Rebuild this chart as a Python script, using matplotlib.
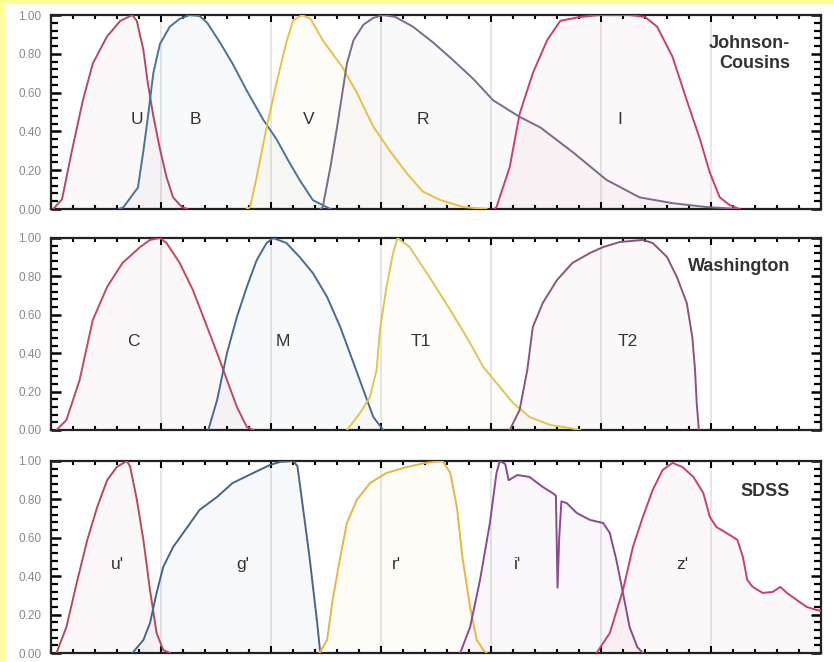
import numpy as np
import matplotlib
matplotlib.use("Agg")
import matplotlib.pyplot as plt
from matplotlib.ticker import MultipleLocator, FixedLocator
from matplotlib.patches import Rectangle

plt.rcParams["font.family"] = ["Liberation Sans", "DejaVu Sans"]

# ---- Johnson-Cousins (wavelength in nm, normalized response) ----
U_wl = [302, 310, 319, 329, 338, 351, 363, 374, 378, 384, 388, 393, 399, 405, 411, 419, 424]
U_rs = [0.0, 0.05, 0.30, 0.56, 0.75, 0.89, 0.97, 1.0, 0.97, 0.82, 0.65, 0.48, 0.31, 0.165, 0.06, 0.01, 0.0]

B_wl = [362, 366, 375, 379, 384, 388, 393, 399, 408, 417, 426, 435, 442, 454, 465, 478, 493, 505, 517, 526, 538, 547, 554]
B_rs = [0.0, 0.01, 0.08, 0.11, 0.30, 0.47, 0.70, 0.85, 0.94, 0.98, 1.0, 0.995, 0.96, 0.855, 0.75, 0.61, 0.46, 0.36, 0.237, 0.15, 0.046, 0.02, 0.0]

V_wl = [478, 481, 487, 496, 505, 514, 520, 528, 536, 547, 565, 578, 593, 608, 624, 638, 654, 675, 696]
V_rs = [0.0, 0.01, 0.165, 0.42, 0.65, 0.86, 0.97, 1.0, 0.98, 0.87, 0.73, 0.60, 0.425, 0.30, 0.18, 0.09, 0.046, 0.01, 0.0]

R_wl = [545, 547, 554, 560, 566, 569, 575, 584, 593, 602, 613, 629, 647, 665, 684, 702, 726, 745, 775, 805, 835, 865, 896, 926]
R_rs = [0.0, 0.01, 0.216, 0.42, 0.64, 0.75, 0.87, 0.95, 0.985, 1.0, 0.99, 0.94, 0.86, 0.77, 0.67, 0.56, 0.475, 0.42, 0.29, 0.15, 0.06, 0.03, 0.01, 0.0]

I_wl = [703, 705, 717, 726, 738, 751, 763, 781, 799, 826, 840, 851, 865, 878, 890, 899, 908, 917, 926]
I_rs = [0.0, 0.01, 0.216, 0.49, 0.70, 0.87, 0.97, 0.99, 1.0, 1.0, 0.99, 0.94, 0.785, 0.56, 0.36, 0.186, 0.06, 0.02, 0.0]

# ---- Washington ----
C_wl = [305, 314, 326, 338, 351, 365, 381, 390, 399, 405, 417, 429, 442, 451, 460, 469, 478, 484]
C_rs = [0.0, 0.052, 0.26, 0.573, 0.745, 0.87, 0.953, 0.99, 1.0, 0.974, 0.87, 0.729, 0.536, 0.401, 0.26, 0.12, 0.016, 0.0]

M_wl = [443, 451, 460, 469, 478, 487, 496, 502, 514, 526, 538, 551, 563, 574, 584, 593, 602]
M_rs = [0.0, 0.156, 0.401, 0.589, 0.745, 0.885, 0.974, 1.0, 0.974, 0.901, 0.818, 0.693, 0.536, 0.365, 0.208, 0.068, 0.0]

T1_wl = [569, 581, 590, 596, 599, 605, 611, 615, 626, 644, 663, 681, 693, 705, 720, 735, 754, 772, 781]
T1_rs = [0.0, 0.089, 0.172, 0.313, 0.521, 0.745, 0.922, 1.0, 0.953, 0.797, 0.625, 0.453, 0.328, 0.245, 0.141, 0.068, 0.026, 0.01, 0.0]

T2_wl = [717, 726, 733, 738, 747, 760, 774, 790, 802, 817, 838, 847, 860, 869, 878, 883, 885.5, 887, 889]
T2_rs = [0.0, 0.104, 0.313, 0.536, 0.661, 0.781, 0.87, 0.922, 0.953, 0.979, 0.99, 0.974, 0.901, 0.797, 0.661, 0.484, 0.313, 0.141, 0.0]

# ---- SDSS ----
u_wl = [305, 314, 324, 333, 342, 351, 360, 369, 372, 378, 384, 390, 396, 402, 408]
u_rs = [0.0, 0.135, 0.38, 0.589, 0.76, 0.90, 0.97, 1.0, 0.97, 0.80, 0.589, 0.328, 0.104, 0.016, 0.0]

g_wl = [374, 384, 390, 396, 402, 411, 424, 435, 451, 465, 484, 499, 508, 520, 524, 529, 535, 542, 544.5, 546]
g_rs = [0.0, 0.068, 0.156, 0.313, 0.448, 0.552, 0.656, 0.745, 0.813, 0.885, 0.938, 0.979, 0.995, 1.0, 0.974, 0.76, 0.50, 0.156, 0.016, 0.0]

r_wl = [544, 551, 556, 563, 569, 578, 590, 605, 624, 640, 656, 663, 669, 674, 681, 687, 693, 696]
r_rs = [0.0, 0.068, 0.276, 0.50, 0.677, 0.797, 0.885, 0.938, 0.969, 0.99, 1.0, 0.938, 0.76, 0.50, 0.24, 0.068, 0.016, 0.0]

i_wl = [672, 681, 690, 699, 705, 708, 713, 716, 724, 735, 747, 756, 759, 760.5, 762, 764, 769, 778, 790, 802, 808, 814, 820, 826, 833, 838]
i_rs = [0.0, 0.135, 0.38, 0.677, 0.938, 1.0, 0.984, 0.90, 0.927, 0.917, 0.865, 0.833, 0.82, 0.34, 0.60, 0.79, 0.78, 0.729, 0.693, 0.677, 0.625, 0.484, 0.313, 0.135, 0.031, 0.0]

z_wl = [796, 808, 820, 829, 838, 847, 856, 865, 874, 884, 893, 899, 905, 914, 920, 924, 929, 933, 938, 947, 956, 963, 969, 978, 987, 996, 1000]
z_rs = [0.0, 0.104, 0.328, 0.552, 0.708, 0.849, 0.953, 0.99, 0.969, 0.917, 0.833, 0.708, 0.656, 0.625, 0.604, 0.589, 0.50, 0.38, 0.344, 0.313, 0.318, 0.344, 0.313, 0.276, 0.24, 0.224, 0.22]

systems = [
    ("Johnson-\nCousins", 0.80, [
        ("U", U_wl, U_rs, "#b44a62", 378),
        ("B", B_wl, B_rs, "#4a7398", 431),
        ("V", V_wl, V_rs, "#e6c048", 534),
        ("R", R_wl, R_rs, "#7c6a88", 638),
        ("I", I_wl, I_rs, "#c8406c", 817),
    ]),
    ("Washington", 0.85, [
        ("C", C_wl, C_rs, "#c04a5e", 375),
        ("M", M_wl, M_rs, "#4a6a92", 511),
        ("T1", T1_wl, T1_rs, "#e0c455", 636),
        ("T2", T2_wl, T2_rs, "#8c5478", 824),
    ]),
    ("SDSS", 0.84, [
        ("u'", u_wl, u_rs, "#b44a5c", 360),
        ("g'", g_wl, g_rs, "#4a6486", 474),
        ("r'", r_wl, r_rs, "#e8b444", 614),
        ("i'", i_wl, i_rs, "#8a4a8e", 724),
        ("z'", z_wl, z_rs, "#c8406c", 874),
    ]),
]

yticks = [0.0, 0.2, 0.4, 0.6, 0.8, 1.0]
ytick_labels = ["0.00", "0.20", "0.40", "0.60", "0.80", "1.00"]
grid_wl = [400, 500, 600, 700, 800, 900]

W, H = 834, 662
fig = plt.figure(figsize=(W / 100, H / 100), dpi=100)
fig.patch.set_facecolor("white")

# thin yellow frame along the left and top edges
fig.patches.append(Rectangle((0, 0), 5 / W, 1, transform=fig.transFigure,
                             facecolor="#ffff99", edgecolor="none", zorder=-1))
fig.patches.append(Rectangle((0, 1 - 4 / H), 1, 4 / H, transform=fig.transFigure,
                             facecolor="#ffff99", edgecolor="none", zorder=-1))

left = 51 / W
width = 770 / W
panels_px = [(15, 209), (238, 430), (461, 653)]

for (top_px, bot_px), (sysname, name_y, curves) in zip(panels_px, systems):
    ax = fig.add_axes([left, 1 - bot_px / H, width, (bot_px - top_px) / H])
    ax.set_xlim(300, 1000)
    ax.set_ylim(0, 1)

    for g in grid_wl:
        ax.axvline(g, color="#e4e4e4", lw=1.3, zorder=0)

    for name, wl, rs, col, xlab in curves:
        ax.fill_between(wl, rs, 0, color=col, alpha=0.04, lw=0, zorder=1)
        ax.plot(wl, rs, color=col, lw=1.4, zorder=3)
        ax.text(xlab, 0.46, name, ha="center", va="center", fontsize=12.5,
                color="#333333", zorder=4)

    ax.text(0.96, name_y, sysname,
            transform=ax.transAxes, ha="right", va="center", fontsize=13,
            fontweight="bold", color="#333333", linespacing=1.25, zorder=4)

    ax.yaxis.set_major_locator(FixedLocator(yticks))
    ax.set_yticklabels(ytick_labels)
    ax.yaxis.set_minor_locator(MultipleLocator(0.04))
    ax.xaxis.set_major_locator(MultipleLocator(100))
    ax.xaxis.set_minor_locator(MultipleLocator(20))
    ax.set_xticklabels([])
    ax.tick_params(axis="y", which="major", direction="in", length=7, width=1.8,
                   left=True, right=True, labelsize=8.5, labelcolor="#8a8a8a", pad=7)
    ax.tick_params(axis="y", which="minor", direction="in", length=5, width=1.6,
                   left=True, right=True)
    ax.tick_params(axis="x", which="major", direction="in", length=5, width=1.5,
                   top=True, bottom=True, labelbottom=False)
    ax.tick_params(axis="x", which="minor", direction="in", length=3, width=1.5,
                   top=True, bottom=True)
    for sp in ax.spines.values():
        sp.set_linewidth(1.6)
        sp.set_color("#222222")

fig.savefig("out.png", dpi=100, facecolor=fig.get_facecolor())
